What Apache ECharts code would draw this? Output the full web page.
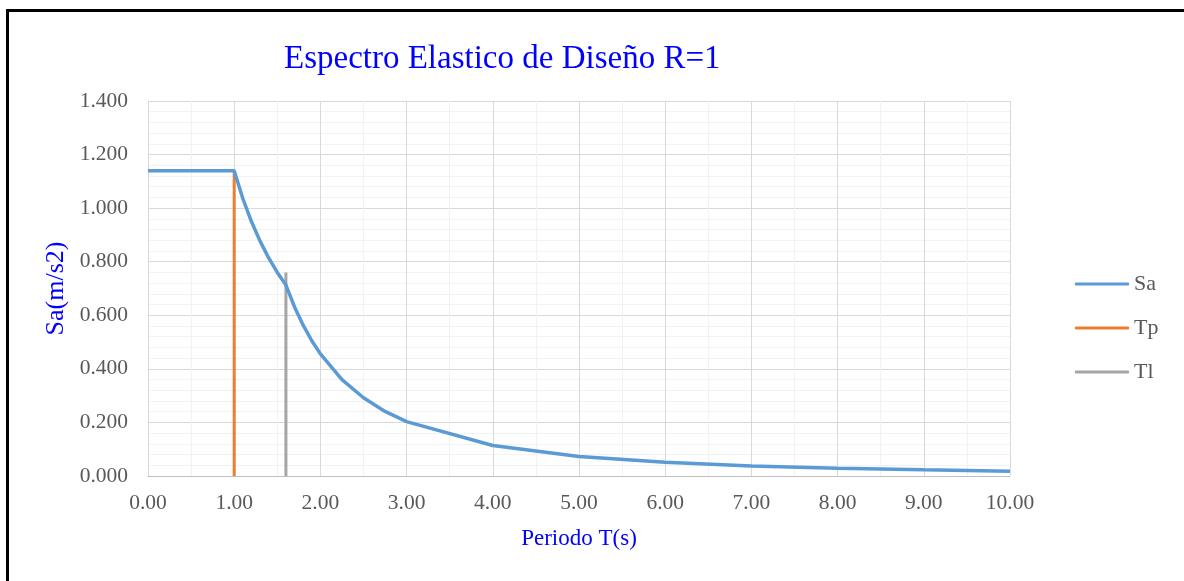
<!DOCTYPE html>
<html>
<head>
<meta charset="utf-8">
<script src="https://cdn.jsdelivr.net/npm/echarts@6/dist/echarts.min.js"></script>
<style>
html,body{margin:0;padding:0;background:#fff;}
#frame{position:absolute;left:6px;top:9px;width:1178px;height:572px;border-top:3px solid #000;border-left:3px solid #000;box-sizing:border-box;}
#chart{position:absolute;left:0;top:0;width:1184px;height:581px;}
</style>
</head>
<body>
<div id="frame"></div>
<div id="chart"></div>
<script>
// Data
const periodT = [0, 1.0, 1.1, 1.2, 1.3, 1.4, 1.5, 1.6, 1.7, 1.8, 1.9, 2.0, 2.25, 2.5, 2.75, 3.0, 4.0, 5.0, 6.0, 7.0, 8.0, 9.0, 10.0];
const saValues = [1.14, 1.14, 1.036, 0.95, 0.877, 0.814, 0.76, 0.713, 0.631, 0.563, 0.505, 0.456, 0.360, 0.292, 0.241, 0.203, 0.114, 0.073, 0.051, 0.037, 0.029, 0.023, 0.018];
const tpX = [1.0, 1.0];
const tpY = [0, 1.14];
const tlX = [1.6, 1.6];
const tlY = [0, 0.76];
const titleText = 'Espectro Elastico de Diseño R=1';
const xName = 'Periodo T(s)';
const yName = 'Sa(m/s2)';
const seriesNames = ['Sa', 'Tp', 'Tl'];

const pairs = (xs, ys) => xs.map((x, i) => [x, ys[i]]);
const FONT = 'Liberation Serif';
const chart = echarts.init(document.getElementById('chart'), null, {renderer: 'canvas'});
chart.setOption({
  animation: false,
  backgroundColor: 'transparent',
  title: {
    text: titleText,
    left: 279, top: 38,
    textStyle: {fontFamily: FONT, fontSize: 33, fontWeight: 'normal', color: '#0000ff'}
  },
  grid: {left: 148, right: 174, top: 101, bottom: 105, containLabel: false},
  legend: {
    orient: 'vertical', left: 1070, top: 268,
    itemWidth: 54, itemHeight: 3, itemGap: 22,
    textStyle: {fontFamily: FONT, fontSize: 22, lineHeight: 22, color: '#595959', padding: [0, 0, 0, 0]},
    data: seriesNames.map(n => ({name: n, icon: 'roundRect'}))
  },
  xAxis: {
    type: 'value', min: 0, max: 10, interval: 1,
    name: xName, nameLocation: 'middle', nameGap: 51,
    nameTextStyle: {fontFamily: FONT, fontSize: 23, color: '#0000ff', verticalAlign: 'top'},
    axisLine: {show: true, onZero: false, lineStyle: {color: '#bfbfbf', width: 1}},
    axisTick: {show: false},
    axisLabel: {fontFamily: FONT, fontSize: 21.5, color: '#595959', margin: 16, formatter: v => v.toFixed(2)},
    splitLine: {show: true, lineStyle: {color: '#d9d9d9', width: 1}},
    minorTick: {show: false, splitNumber: 2},
    minorSplitLine: {show: true, lineStyle: {color: '#f2f2f2', width: 1}}
  },
  yAxis: {
    type: 'value', min: 0, max: 1.4, interval: 0.2,
    name: yName, nameLocation: 'middle', nameGap: 78, nameRotate: 90,
    nameTextStyle: {fontFamily: FONT, fontSize: 26, color: '#0000ff'},
    axisLine: {show: false},
    axisTick: {show: false},
    axisLabel: {fontFamily: FONT, fontSize: 21.5, color: '#595959', margin: 20, formatter: v => v.toFixed(3)},
    splitLine: {show: true, lineStyle: {color: '#d9d9d9', width: 1}},
    minorTick: {show: false, splitNumber: 5},
    minorSplitLine: {show: true, lineStyle: {color: '#f2f2f2', width: 1}}
  },
  series: [
    {name: 'Sa', type: 'line', data: pairs(periodT, saValues), showSymbol: false, symbol: 'none',
     lineStyle: {color: '#5b9bd5', width: 3.5}, itemStyle: {color: '#5b9bd5'}, z: 3},
    {name: 'Tp', type: 'line', data: pairs(tpX, tpY), showSymbol: false, symbol: 'none',
     lineStyle: {color: '#ed7d31', width: 3}, itemStyle: {color: '#ed7d31'}, z: 2},
    {name: 'Tl', type: 'line', data: pairs(tlX, tlY), showSymbol: false, symbol: 'none',
     lineStyle: {color: '#a5a5a5', width: 3}, itemStyle: {color: '#a5a5a5'}, z: 2}
  ]
});
</script>
</body>
</html>
